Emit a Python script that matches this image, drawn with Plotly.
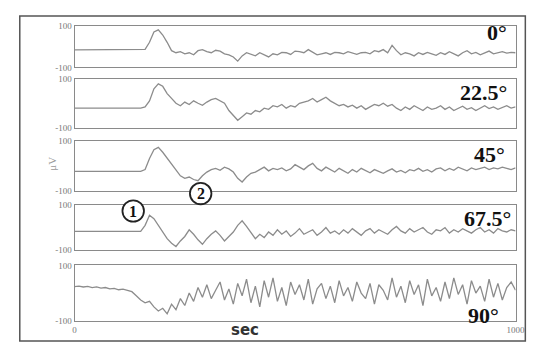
import plotly.graph_objects as go
from plotly.subplots import make_subplots

W, H = 542, 342

# ---------------- data ----------------
time_step = 10  # sec per sample
angle_labels = ["0°", "22.5°", "45°", "67.5°", "90°"]
y_top_labels = ["100", "100", "100", "100", "100"]
y_bottom_labels = ["-100", "-100", "-100", "-100", "-100"]
x_tick_vals = [0, 1000]
x_tick_labels = ["0", "1000"]
x_title = "sec"
y_title = "μV"

s_0 = [-16] * 16 + [
    -14, 20, 70, 80, 55, 20, -20, -30, -25, -35, -30, -40, -20, -15, -25, -30, -18, -22, -35, -40,
    -50, -70, -45, -30, -38, -45, -30, -42, -50, -35, -40, -28, -30, -38, -22, -25, -30, -15, -28, -40,
    -35, -30, -38, -28, -30, -35, -25, -33, -38, -30, -28, -35, -20, -25, -15, -30, 5, -20, -40, -30,
    -35, -45, -30, -38, -28, -35, -42, -30, -38, -25, -35, -45, -30, -20, -35, -28, -40, -30, -22, -35,
    -30, -25, -32, -28, -30]
s_22 = [-20] * 16 + [
    -15, 10, 60, 80, 70, 40, 20, 0, -10, 5, -5, 10, 0, -8, 5, 15, 20, 10, 0, -30,
    -50, -70, -55, -40, -45, -30, -35, -20, -25, -10, -15, -5, -20, -10, -15, 0, 5, 10, 20, 5,
    15, 25, 10, 0, -10, -5, -15, -8, -20, -10, -25, -15, -5, -10, 0, -12, -5, -20, -30, -15,
    -25, -10, -20, -30, -15, -25, -20, -10, -25, -15, -30, -20, -12, -25, -18, -30, -20, -10, -22, -15,
    -25, -18, -10, -20, -15]
s_45 = [-22] * 16 + [
    -15, 30, 65, 75, 55, 30, 5, -20, -40, -50, -45, -55, -60, -40, -25, -15, -10, -18, -5, -12,
    -25, -50, -65, -45, -30, -25, -15, -5, -20, -10, -15, -8, -20, -12, 5, -5, -15, 0, 10, -10,
    -20, -5, -15, -25, -10, -20, -30, -15, -25, -10, -20, -28, -15, -22, -30, -20, -12, -25, -18, -28,
    -15, -20, -10, -22, -15, -25, -12, -8, -20, -10, -18, -5, -12, -20, -8, -15, -10, -5, -15, -8,
    -12, -5, -10, -15, -8]
s_67 = [-17] * 16 + [
    10, 55, 40, 10, -20, -50, -70, -85, -60, -40, -10, -30, -55, -75, -50, -30, -15, -35, -60, -40,
    -20, 10, 30, 5, -25, -50, -30, -45, -20, -35, -10, -30, -15, -40, -25, -5, -30, -20, -10, -35,
    -20, 0, -25, -15, -30, -10, -25, -5, -20, -35, -15, -5, -25, -10, -20, -30, -10, 5, -15, -25,
    -5, -20, -10, 0, -20, -30, -10, -15, 0, -25, -10, -20, -5, -15, -25, -10, 0, -20, -10, -25,
    -5, -15, -20, -10, -15]
s_90 = [
    23, 25, 22, 24, 20, 22, 18, 20, 15, 17, 12, 14, 10, 5, -10, -25, -35, -30, -50, -65,
    -55, -75, -40, -60, -20, -45, 0, -30, 20, -15, 30, -20, 10, 40, -25, 15, -40, 35, -10, 50,
    -35, 25, -50, 45, -15, 55, -30, 20, -45, 40, -5, 30, -25, 50, -40, 15, 35, -20, 25, -35,
    45, -10, 20, -30, 40, 0, -20, 35, -40, 30, 10, -25, 55, -15, 25, -35, 45, -5, 30, -45,
    50, -10, 20, -30, 40, -20, 55, -5, 30, -40, 45, 0, 25, -30, 50, -15, 35, -25, 20, 40,
    10]
series = [s_0, s_22, s_45, s_67, s_90]

# ---------------- layout helpers ----------------
def px(x):
    return x / W

def py(y):
    return 1 - y / H

panel_px = [(13, 56), (68, 118), (132, 183), (198, 244), (260, 317)]
x_left, x_right = 66, 517
line_col = "#8a8a8a"
serif = "Liberation Serif, DejaVu Serif, serif"

fig = make_subplots(rows=5, cols=1, shared_xaxes=True, vertical_spacing=0.02)

for i, s in enumerate(series):
    t = [k * time_step for k in range(len(s))]
    fig.add_trace(go.Scatter(x=t, y=s, mode="lines",
                             line=dict(color="#8c8c8c", width=1.3),
                             showlegend=False, hoverinfo="skip"),
                  row=i + 1, col=1)

for i, (top, bot) in enumerate(panel_px):
    n = "" if i == 0 else str(i + 1)
    fig.layout["yaxis" + n].update(
        domain=[py(bot), py(top)], range=[-100, 100],
        tickmode="array",
        tickvals=[-100, 100], ticktext=[y_bottom_labels[i], y_top_labels[i]],
        tickfont=dict(family=serif, size=9, color="#777777"),
        showgrid=False, zeroline=False, showline=True, mirror=True,
        linecolor=line_col, linewidth=1, ticks="", ticklen=0)
    last = (i == 4)
    fig.layout["xaxis" + n].update(
        domain=[px(x_left), px(x_right)], range=[0, 1000],
        showgrid=False, zeroline=False, showline=True, mirror=True,
        linecolor=line_col, linewidth=1, ticks="",
        tickmode="array",
        tickvals=x_tick_vals if last else [],
        ticktext=x_tick_labels if last else [],
        showticklabels=last,
        tickfont=dict(family=serif, size=9, color="#777777"))

annotations = []
angle_pos = [(510, 20), (510, 82), (508, 146), (514, 212), (502, 312)]
for lab, (ax_, ay_) in zip(angle_labels, angle_pos):
    annotations.append(dict(x=px(ax_), y=py(ay_), xref="paper", yref="paper",
                            text=lab, showarrow=False, xanchor="right", yanchor="middle",
                            font=dict(family=serif, size=22, color="#111111", weight="bold")))

annotations.append(dict(x=px(240), y=py(327), xref="paper", yref="paper", text=x_title,
                        showarrow=False, font=dict(family="DejaVu Sans, sans-serif", size=15,
                                                   color="#333333", weight="bold"),
                        xanchor="center", yanchor="middle"))
annotations.append(dict(x=px(35), y=py(155), xref="paper", yref="paper", text=y_title,
                        showarrow=False, textangle=-90,
                        font=dict(family=serif, size=11, color="#9a9a9a")))

shapes = [
    dict(type="rect", xref="paper", yref="paper", x0=px(10), x1=px(527), y0=py(338), y1=py(3),
         line=dict(color="#555555", width=1.5)),
]
circle_marks = [("1", 126, 204), ("2", 195, 186)]
for lab, cx, cy in circle_marks:
    shapes.append(dict(type="circle", xref="paper", yref="paper",
                       x0=px(cx - 11), x1=px(cx + 11), y0=py(cy + 11), y1=py(cy - 11),
                       line=dict(color="#222222", width=1.8), fillcolor="white"))
    annotations.append(dict(x=px(cx), y=py(cy), xref="paper", yref="paper", text=lab,
                            showarrow=False, xanchor="center", yanchor="middle",
                            font=dict(family=serif, size=16, color="#111111", weight="bold")))

fig.update_layout(width=W, height=H, margin=dict(l=0, r=0, t=0, b=0),
                  paper_bgcolor="white", plot_bgcolor="white",
                  annotations=annotations, shapes=shapes)

fig.write_html("out.html")
